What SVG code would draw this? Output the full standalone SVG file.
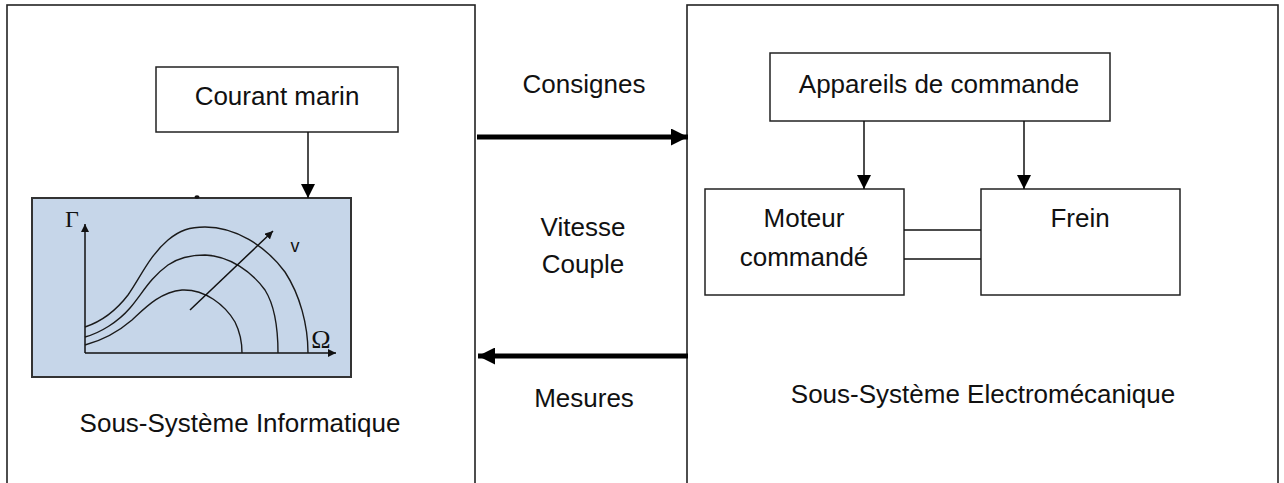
<svg xmlns="http://www.w3.org/2000/svg" width="1284" height="483" viewBox="0 0 1284 483">
<defs>
<style>
.frame{fill:none;stroke:#222;stroke-width:1.6}
.box{fill:#fff;stroke:#222;stroke-width:1.5}
.lbl{font-family:"Liberation Sans",Arial,sans-serif;font-size:26px;fill:#111;text-anchor:middle}
.thin{fill:none;stroke:#111;stroke-width:1.5}
.thick{fill:none;stroke:#000;stroke-width:5}
.curve{fill:none;stroke:#1a1a1a;stroke-width:1.4}
</style>
<marker id="ah" markerUnits="userSpaceOnUse" markerWidth="14" markerHeight="14" viewBox="0 0 14 14" refX="14" refY="7" orient="auto">
<path d="M0,0 L14,7 L0,14 Z" fill="#000"/>
</marker>
<marker id="ahBig" markerUnits="userSpaceOnUse" markerWidth="17" markerHeight="17" viewBox="0 0 17 17" refX="17" refY="8.5" orient="auto">
<path d="M0,0 L17,8.5 L0,17 Z" fill="#000"/>
</marker>
<marker id="ahSmall" markerUnits="userSpaceOnUse" markerWidth="8" markerHeight="8" viewBox="0 0 8 8" refX="8" refY="4" orient="auto">
<path d="M0,0 L8,4 L0,8 Z" fill="#111"/>
</marker>
</defs>

<g id="sous-systeme-informatique">
<rect class="frame" x="7" y="5" width="468" height="490"/>
<text class="lbl" x="240" y="432">Sous-Système Informatique</text>
</g>

<g id="sous-systeme-electromecanique">
<rect class="frame" x="687" y="5" width="591" height="490"/>
<text class="lbl" x="983" y="403">Sous-Système Electromécanique</text>
</g>

<g id="courant-marin">
<rect class="box" x="156" y="67" width="242" height="65"/>
<text class="lbl" x="277" y="105">Courant marin</text>
</g>

<g id="graphe">
<rect x="32" y="198" width="319" height="179" fill="#c6d6e9" stroke="#333" stroke-width="2"/>
<ellipse cx="197" cy="197" rx="2.5" ry="1.8" fill="#111"/>
<line class="thin" x1="85" y1="353" x2="85" y2="224" marker-end="url(#ahSmall)"/>
<line class="thin" x1="85" y1="353" x2="336" y2="353" marker-end="url(#ahSmall)"/>
<path class="curve" d="M85,327 C100,322 115,312 128,295 C140,278 150,255 168,240 C180,230 190,227 205,227 C235,227 265,245 285,272 C300,295 308,325 308,353"/>
<path class="curve" d="M85,337 C100,333 118,322 130,308 C142,294 150,278 168,265 C178,258 190,255 205,255 C230,256 252,272 265,290 C275,306 278,330 278,353"/>
<path class="curve" d="M85,345 C100,341 118,332 132,320 C145,308 160,292 182,290 C205,289 225,305 235,322 C241,334 242,345 242,353"/>
<line class="thin" x1="190" y1="310" x2="273" y2="231" marker-end="url(#ahSmall)"/>
<text x="72" y="227" font-family="'Liberation Serif',serif" font-size="24" fill="#111" text-anchor="middle">Γ</text>
<text x="321" y="348" font-family="'Liberation Serif',serif" font-size="26" fill="#111" text-anchor="middle">Ω</text>
<text x="295" y="252" font-family="'Liberation Sans',sans-serif" font-size="18" fill="#111" text-anchor="middle">v</text>
</g>

<g id="appareils-de-commande">
<rect class="box" x="770" y="53" width="340" height="68"/>
<text class="lbl" x="939" y="93">Appareils de commande</text>
</g>

<g id="moteur-commande">
<rect class="box" x="705" y="189" width="199" height="106"/>
<text class="lbl" x="804" y="227">Moteur</text>
<text class="lbl" x="804" y="266">commandé</text>
</g>

<g id="frein">
<rect class="box" x="981" y="189" width="199" height="106"/>
<text class="lbl" x="1080" y="227">Frein</text>
</g>

<g id="labels">
<text class="lbl" x="584" y="93">Consignes</text>
<text class="lbl" x="583" y="236">Vitesse</text>
<text class="lbl" x="583" y="273">Couple</text>
<text class="lbl" x="584" y="407">Mesures</text>
</g>

<g id="connectors">
<line class="thin" x1="308" y1="132" x2="308" y2="198" marker-end="url(#ah)"/>
<line class="thin" x1="864" y1="121" x2="864" y2="189" marker-end="url(#ah)"/>
<line class="thin" x1="1024" y1="121" x2="1024" y2="189" marker-end="url(#ah)"/>
<line class="thin" x1="904" y1="230" x2="981" y2="230"/>
<line class="thin" x1="904" y1="259" x2="981" y2="259"/>
<line class="thick" x1="477" y1="137" x2="688" y2="137" marker-end="url(#ahBig)"/>
<line class="thick" x1="688" y1="356" x2="478" y2="356" marker-end="url(#ahBig)"/>
</g>
</svg>
